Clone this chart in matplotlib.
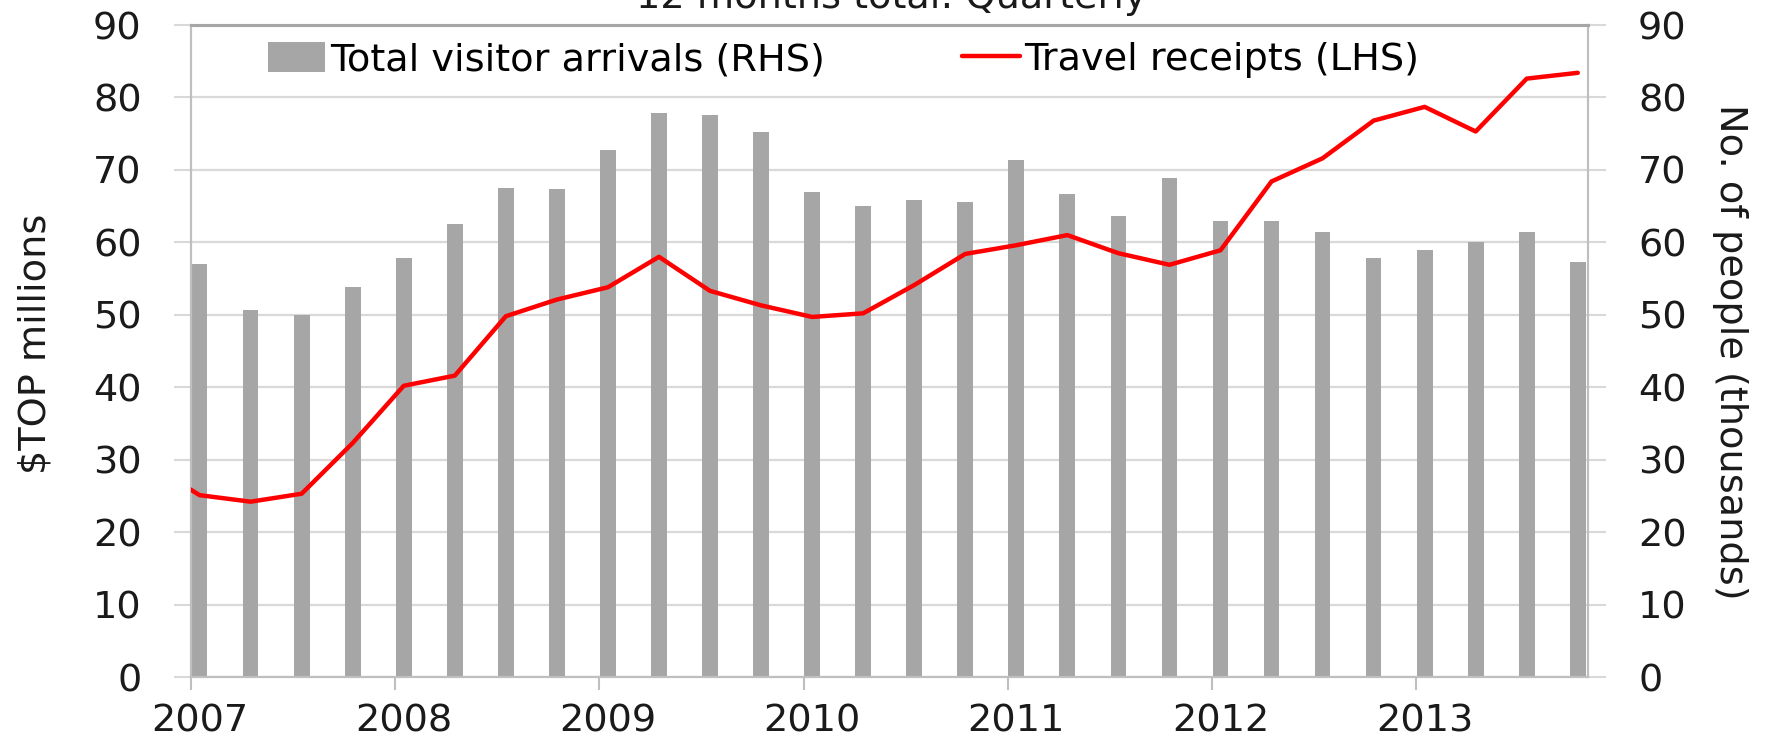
import matplotlib
matplotlib.use("Agg")
import matplotlib.pyplot as plt
from matplotlib.ticker import FixedLocator, NullFormatter, FixedFormatter

plt.rcParams['font.family'] = ['DejaVu Sans']
FS = 27.5

# ---- data ----
quarters = ['2007Q1', '2007Q2', '2007Q3', '2007Q4',
            '2008Q1', '2008Q2', '2008Q3', '2008Q4',
            '2009Q1', '2009Q2', '2009Q3', '2009Q4',
            '2010Q1', '2010Q2', '2010Q3', '2010Q4',
            '2011Q1', '2011Q2', '2011Q3', '2011Q4',
            '2012Q1', '2012Q2', '2012Q3', '2012Q4',
            '2013Q1', '2013Q2', '2013Q3', '2013Q4']
arrivals = [57.0, 50.6, 50.0, 53.9,
            57.9, 62.5, 67.5, 67.4,
            72.7, 77.9, 77.6, 75.2,
            67.0, 65.0, 65.8, 65.6,
            71.3, 66.7, 63.7, 68.9,
            63.0, 62.9, 61.4, 57.9,
            58.9, 60.1, 61.4, 57.3]
receipt_quarters = ['2006Q4'] + quarters
receipts = [29.5,
            25.1, 24.2, 25.3, 32.3,
            40.2, 41.6, 49.8, 52.1,
            53.8, 58.0, 53.3, 51.3,
            49.7, 50.2, 54.1, 58.4,
            59.6, 61.0, 58.5, 56.9,
            58.9, 68.4, 71.6, 76.8,
            78.7, 75.3, 82.6, 83.4]
year_labels = ['2007', '2008', '2009', '2010', '2011', '2012', '2013']
y_ticks = [0, 10, 20, 30, 40, 50, 60, 70, 80, 90]


def qpos(label):
    return int(label[:4]) + (int(label[-1]) - 1) / 4 + 0.042


bar_x = [qpos(q) for q in quarters]
line_x = [qpos(q) for q in receipt_quarters]

fig = plt.figure(figsize=(17.7, 7.42), dpi=100)
ax2 = fig.add_axes([191 / 1770, 65 / 742, (1588 - 191) / 1770, (677 - 25) / 742])
ax = ax2.twinx()
ax.set_zorder(ax2.get_zorder() + 1)
ax.patch.set_visible(False)

GRID = '#d9d9d9'
SPINE = '#bfbfbf'
BAR = '#a6a6a6'

bars = ax2.bar(bar_x, arrivals, width=0.077, color=BAR, zorder=2,
               label='Total visitor arrivals (RHS)')
line, = ax.plot(line_x, receipts, color='#ff0000', lw=3.2, zorder=3,
                solid_joinstyle='round', solid_capstyle='round',
                label='Travel receipts (LHS)')

xmin, xmax = 2007.0, 2013.842
for a in (ax, ax2):
    a.set_xlim(xmin, xmax)
    a.set_ylim(0, 90)
    a.set_yticks(y_ticks)

ax2.yaxis.grid(True, color=GRID, lw=1.6, zorder=0)
ax2.set_axisbelow(True)

ax2.tick_params(axis='y', which='major', direction='out', length=12.5,
                width=1.5, color=GRID, pad=23, labelsize=FS, labelcolor='#1a1a1a')
ax.tick_params(axis='y', which='major', direction='out', length=13,
               width=1.5, color=GRID, pad=23, labelsize=FS, labelcolor='#1a1a1a')

# x: major ticks at year starts, labels at first-quarter positions
year_starts = [int(y) for y in year_labels]
ax2.xaxis.set_major_locator(FixedLocator(year_starts))
ax2.xaxis.set_major_formatter(NullFormatter())
ax2.xaxis.set_minor_locator(FixedLocator([qpos(y + 'Q1') for y in year_labels]))
ax2.xaxis.set_minor_formatter(FixedFormatter(year_labels))
ax2.tick_params(axis='x', which='major', direction='out', length=9, width=1.5,
                color=SPINE)
ax2.tick_params(axis='x', which='minor', length=0, pad=19, labelsize=FS,
                labelcolor='#1a1a1a')
ax.tick_params(axis='x', which='both', length=0, labelbottom=False)

for a in (ax, ax2):
    for s in ('left', 'right', 'bottom'):
        a.spines[s].set_color(SPINE)
        a.spines[s].set_linewidth(1.5)
    a.spines['top'].set_color('#a6a6a6')
    a.spines['top'].set_linewidth(2.2)

# legend
fig.legend(handles=[bars, line], loc='center left',
           bbox_to_anchor=(268 / 1770, 1 - 60 / 742), bbox_transform=fig.transFigure,
           ncol=2, frameon=False, fontsize=FS, handlelength=1.5,
           handleheight=0.86, handletextpad=0.12, columnspacing=3.6,
           borderpad=0, borderaxespad=0)

# axis titles
fig.text(36 / 1770, 1 - 344 / 742, '$TOP millions', rotation=90, ha='center',
         va='center', fontsize=FS, color='#1a1a1a')
fig.text(1730 / 1770, 1 - 352 / 742, 'No. of people (thousands)', rotation=270,
         ha='center', va='center', fontsize=FS, color='#1a1a1a')
# chart title (cut at the top edge as in the reference)
fig.text(891 / 1770, 1 - 8 / 742, '12 months total: Quarterly', ha='center',
         va='baseline', fontsize=FS, color='#1a1a1a')

fig.savefig('out.png', dpi=100, facecolor='white')
